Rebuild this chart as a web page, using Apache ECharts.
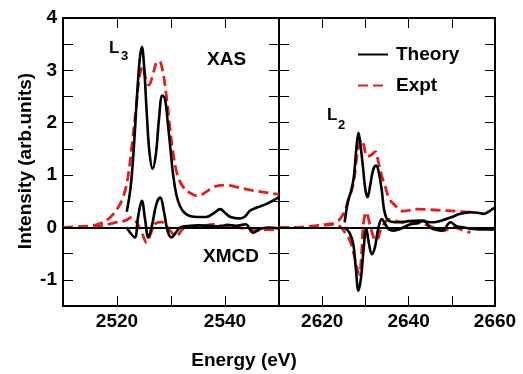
<!DOCTYPE html>
<html>
<head>
<meta charset="utf-8">
<script src="https://cdn.jsdelivr.net/npm/echarts@6/dist/echarts.min.js"></script>
<style>
  html, body { margin: 0; padding: 0; background: #fff; }
  #chart { width: 523px; height: 374px; }
</style>
</head>
<body>
<div id="chart"></div>
<script>
// L3 edge panel: [energy, intensity]
var l3TheoryXas = [
  [2521.8, 0.3], [2522.5, 0.75], [2523.1, 1.5], [2523.7, 2.5], [2524.2, 3.2], [2524.6, 3.45],
  [2525.0, 3.1], [2525.5, 2.2], [2526.0, 1.45], [2526.6, 1.12], [2527.2, 1.4], [2527.8, 2.1],
  [2528.4, 2.52], [2528.9, 2.45], [2529.4, 2.0], [2529.9, 1.5], [2530.4, 1.0], [2531.0, 0.62],
  [2531.7, 0.4], [2532.5, 0.28], [2533.5, 0.22], [2535, 0.2], [2536.5, 0.2], [2538, 0.28],
  [2539.1, 0.35], [2540, 0.28], [2541, 0.2], [2542.8, 0.17], [2543.8, 0.22], [2544.6, 0.32],
  [2545.9, 0.38], [2547.7, 0.45], [2549, 0.52], [2550, 0.58]
]
var l3ExptXas = [
  [2510, 0], [2512, 0.01], [2515, 0.03], [2517, 0.08], [2518.7, 0.19], [2520.2, 0.38],
  [2521.2, 0.6], [2522, 0.95], [2522.8, 1.6], [2523.5, 2.25], [2524.2, 2.9], [2524.8, 3.08],
  [2525.3, 2.85], [2525.9, 2.72], [2526.6, 2.9], [2527.3, 3.15], [2527.8, 3.18], [2528.4, 3.02],
  [2529.1, 2.55], [2529.8, 1.9], [2530.5, 1.35], [2531.2, 1.0], [2532.2, 0.78], [2533.5, 0.66],
  [2535, 0.6], [2536.5, 0.68], [2538, 0.78], [2540, 0.81], [2542.2, 0.77], [2545, 0.71],
  [2548, 0.66], [2550, 0.63]
]
var l3TheoryXmcd = [
  [2521.8, 0], [2522.6, -0.12], [2523.3, -0.19], [2523.9, 0.2], [2524.6, 0.51], [2525.2, 0.15],
  [2525.8, -0.19], [2526.5, 0.05], [2527.3, 0.45], [2528.0, 0.57], [2528.7, 0.3], [2529.4, -0.08],
  [2530.1, -0.19], [2530.9, -0.1], [2531.7, 0], [2533.5, 0.03], [2535, 0.04], [2537, 0.03],
  [2539, 0.02], [2540.5, 0.05], [2542, 0.03], [2543.8, 0.06], [2545.2, -0.1], [2546.5, -0.03],
  [2548, 0.0], [2550, -0.02]
]
var l3ExptXmcd = [
  [2510, 0], [2515, 0.01], [2517, 0.03], [2518.7, 0.07], [2520, 0.1], [2521.5, 0.13],
  [2522.7, 0.19], [2523.5, 0.12], [2524.6, -0.1], [2525.5, -0.29], [2526.3, -0.1], [2527.2, 0.08],
  [2528.3, 0.1], [2529.2, 0.02], [2529.8, -0.06], [2531, -0.16], [2532.3, -0.02], [2534, 0.02],
  [2536, 0.03], [2537.8, 0.06], [2540, 0.02], [2542, 0.0], [2544, -0.02], [2545.9, -0.06],
  [2548, -0.04], [2550, -0.06]
]

// L2 edge panel
var l2TheoryXas = [
  [2625.2, 0.1], [2626.0, 0.51], [2626.7, 0.7], [2627.3, 0.95], [2627.9, 1.5], [2628.4, 1.81],
  [2628.9, 1.55], [2629.5, 1.1], [2630.0, 0.72], [2630.5, 0.58], [2631.1, 0.8], [2631.8, 1.1],
  [2632.5, 1.18], [2633.1, 1.05], [2633.8, 0.7], [2634.3, 0.35], [2635.0, 0.16], [2636, 0.11],
  [2638.1, 0.1], [2640, 0.12], [2642.7, 0.13], [2644, 0.11], [2645.8, 0.1], [2647.5, 0.13],
  [2649.7, 0.19], [2652, 0.26], [2654.4, 0.29], [2656, 0.28], [2657.4, 0.26], [2658.5, 0.3],
  [2659.4, 0.35], [2660, 0.38]
]
var l2ExptXas = [
  [2610, 0], [2613, 0.0], [2617, 0.02], [2621, 0.06], [2623.3, 0.1], [2624.9, 0.26],
  [2626, 0.51], [2627.2, 0.83], [2628, 1.34], [2628.6, 1.6], [2629.1, 1.68], [2629.6, 1.58],
  [2630.4, 1.36], [2631.3, 1.38], [2632.3, 1.45], [2633, 1.25], [2633.8, 0.98], [2634.6, 0.78],
  [2635.5, 0.55], [2636.5, 0.45], [2638.8, 0.31], [2642, 0.35], [2646.6, 0.33], [2651, 0.31],
  [2655, 0.29]
]
var l2TheoryXmcd = [
  [2625.2, 0], [2626.3, -0.1], [2627.2, -0.32], [2627.8, -0.8], [2628.4, -1.21], [2629.0, -0.95],
  [2629.6, -0.4], [2630.2, -0.02], [2630.8, -0.3], [2631.5, -0.51], [2632.2, -0.38], [2632.9, -0.05],
  [2633.8, 0.16], [2634.6, 0.06], [2635.5, -0.04], [2636.5, -0.06], [2638, -0.03], [2640.4, 0.06],
  [2642, 0.08], [2643.5, 0.13], [2645, 0.0], [2646.6, -0.05], [2647.8, -0.06], [2649.7, 0.1],
  [2651, 0.03], [2652.8, 0.0], [2655, -0.03], [2658, -0.04], [2660, -0.04]
]
var l2ExptXmcd = [
  [2610, 0], [2614.8, 0], [2619.5, 0.03], [2622.6, 0.06], [2624.1, 0.02], [2625.3, -0.1],
  [2626.4, -0.25], [2627.3, -0.5], [2628, -0.75], [2628.6, -0.9], [2629.1, -0.5], [2629.6, 0.1],
  [2630.2, 0.29], [2630.9, 0.1], [2631.9, -0.19], [2632.6, -0.25], [2633.5, -0.05], [2634.6, 0.1],
  [2635.4, 0.16], [2636.5, 0.13], [2638.8, 0.1], [2642.7, 0.08], [2645.8, 0.0], [2648, -0.06],
  [2650.5, 0.0], [2652.5, -0.05], [2654.3, -0.1]
]

// tick positions and labels
var leftXTicks = [2520, 2530, 2540]
var leftXLabels = [2520, 2540]
var rightXTicks = [2620, 2630, 2640, 2650, 2660]
var rightXLabels = [2620, 2640, 2660]
var yTicks = [-1, -0.5, 0, 0.5, 1, 1.5, 2, 2.5, 3, 3.5, 4]
var yLabels = [-1, 0, 1, 2, 3, 4]

var FONT = '"Liberation Sans", Arial, sans-serif'
var RED = '#e0201c'

function tickAxis (gridIndex, position, min, max, ticks, labels) {
  var axis = {
    type: 'value',
    gridIndex: gridIndex,
    position: position,
    min: min,
    max: max,
    axisLine: { show: true, onZero: false, lineStyle: { color: '#000', width: 2 } },
    splitLine: { show: false },
    axisTick: { show: true, inside: true, length: 10, customValues: ticks },
    axisLabel: { show: false }
  }
  if (labels) {
    axis.axisLabel = {
      customValues: labels, margin: 6,
      formatter: function (v) { return String(v) },
      color: '#000', fontFamily: FONT, fontWeight: 'bold', fontSize: 19
    }
  }
  return axis
}

var xAxes = [
  tickAxis(0, 'bottom', 2510, 2550, leftXTicks, leftXLabels),
  tickAxis(0, 'top', 2510, 2550, leftXTicks, null),
  tickAxis(1, 'bottom', 2610, 2660, rightXTicks, rightXLabels),
  tickAxis(1, 'top', 2610, 2660, rightXTicks, null)
]
var yAxes = [
  tickAxis(0, 'left', -1.5, 4, yTicks, yLabels),
  tickAxis(0, 'right', -1.5, 4, yTicks, null),
  tickAxis(1, 'left', -1.5, 4, yTicks, null),
  tickAxis(1, 'right', -1.5, 4, yTicks, null)
]

function line (name, data, gi, dashed) {
  return {
    name: name,
    type: 'line',
    data: data,
    xAxisIndex: gi * 2,
    yAxisIndex: gi * 2,
    symbol: 'none',
    smooth: 0.4,
    lineStyle: dashed
      ? { color: RED, width: 2.8, type: [10, 5] }
      : { color: '#000', width: 2.6 },
    itemStyle: { color: dashed ? RED : '#000' }
  }
}

function zeroLine (gi) {
  var s = line('zero', [], gi, false)
  s.markLine = {
    silent: true, symbol: 'none', label: { show: false },
    lineStyle: { color: '#000', width: 2, type: 'solid' },
    data: [{ yAxis: 0 }]
  }
  return s
}

var series = [
  line('Expt', l3ExptXas, 0, true),
  line('Expt', l3ExptXmcd, 0, true),
  line('Theory', l3TheoryXas, 0, false),
  line('Theory', l3TheoryXmcd, 0, false),
  line('Expt', l2ExptXas, 1, true),
  line('Expt', l2ExptXmcd, 1, true),
  line('Theory', l2TheoryXas, 1, false),
  line('Theory', l2TheoryXmcd, 1, false),
  zeroLine(0),
  zeroLine(1)
]

function txt (x, y, s, size) {
  return {
    type: 'text', x: x, y: y, silent: true,
    style: { text: s, fill: '#000', font: 'bold ' + size + 'px ' + FONT, textVerticalAlign: 'top' }
  }
}

var chart = echarts.init(document.getElementById('chart'))
chart.setOption({
  animation: false,
  grid: [
    { left: 63, top: 18, width: 216, height: 288 },
    { left: 279, top: 18, width: 216, height: 288 }
  ],
  xAxis: xAxes,
  yAxis: yAxes,
  legend: {
    data: ['Theory', 'Expt'],
    orient: 'vertical',
    left: 352,
    top: 40,
    itemWidth: 30,
    itemHeight: 14,
    itemGap: 12,
    itemStyle: { opacity: 0 },
    textStyle: { color: '#000', fontFamily: FONT, fontWeight: 'bold', fontSize: 19, padding: [0, 0, 0, 3] }
  },
  graphic: [
    txt(109, 40, 'L', 17),
    txt(121, 50, '3', 13),
    txt(327, 107, 'L', 17),
    txt(338, 119, '2', 13),
    txt(207, 50, 'XAS', 19),
    txt(203, 247, 'XMCD', 19),
    {
      type: 'text', x: 244, y: 361, silent: true,
      style: { text: 'Energy (eV)', fill: '#000', font: 'bold 19px ' + FONT, textAlign: 'center', textVerticalAlign: 'middle' }
    },
    {
      type: 'text', x: 26, y: 161, rotation: Math.PI / 2, silent: true,
      style: { text: 'Intensity (arb.units)', fill: '#000', font: 'bold 19px ' + FONT, textAlign: 'center', textVerticalAlign: 'middle' }
    }
  ],
  series: series
})
</script>
</body>
</html>
